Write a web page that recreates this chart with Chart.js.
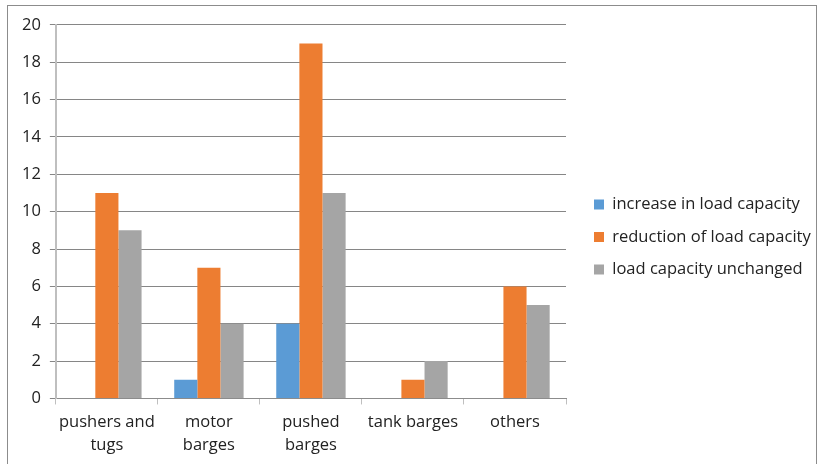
<!DOCTYPE html>
<html><head><meta charset="utf-8">
<script src="https://cdn.jsdelivr.net/npm/chart.js@4/dist/chart.umd.min.js"></script>
<style>
html,body{margin:0;padding:0;background:#fff;overflow:hidden;}
#wrap{position:absolute;left:7px;top:5px;width:810px;height:470px;border:1px solid #8c8c8c;box-sizing:border-box;}
</style></head>
<body><div id="wrap"><canvas id="c"></canvas></div>
<script>
const categories = [["pushers and","tugs"],["motor","barges"],["pushed","barges"],"tank barges","others"];
const increaseVals = [null, 1, 4, null, null];
const reductionVals = [11, 7, 19, 1, 6];
const unchangedVals = [9, 4, 11, 2, 5];
const seriesNames = ["increase in load capacity","reduction of load capacity","load capacity unchanged"];
const yTicks = [0,2,4,6,8,10,12,14,16,18,20];

const font = {family:"'Open Sans', Lato, sans-serif", size:16.5};
const legendFix = {
  id:'legendFix',
  beforeUpdate(chart){
    const lg = chart.legend;
    if (lg && !lg._patched){
      const orig = lg.fit.bind(lg);
      lg.fit = function(){ orig(); this.width = 250; };
      lg._patched = true;
    }
  },
  afterLayout(chart){ chart.legend.left += 12; chart.legend.top -= 6; chart.legend.bottom -= 6; }
};
new Chart(document.getElementById('c'), {
  type:'bar',
  data:{labels:categories, datasets:[
    {label:seriesNames[0], data:increaseVals, backgroundColor:'#5B9BD5'},
    {label:seriesNames[1], data:reductionVals, backgroundColor:'#ED7D31'},
    {label:seriesNames[2], data:unchangedVals, backgroundColor:'#A5A5A5'}
  ]},
  plugins:[legendFix],
  options:{
    responsive:true, maintainAspectRatio:false, animation:false,
    layout:{padding:{left:5,top:17,right:0,bottom:11}},
    datasets:{bar:{categoryPercentage:0.68, barPercentage:1}},
    plugins:{
      tooltip:{enabled:false},
      legend:{position:'right', align:'center',
        labels:{boxWidth:10, boxHeight:10, padding:16, color:'#222', font:font}}
    },
    scales:{
      x:{grid:{offset:true, drawOnChartArea:false, tickLength:6, color:'#bfbfbf'},
         border:{color:'#8c8c8c'},
         ticks:{color:'#222', font:Object.assign({},font,{lineHeight:1.35}), maxRotation:0, autoSkip:false, padding:7}},
      y:{min:0,max:20,
         afterBuildTicks:(s)=>{s.ticks=yTicks.map(v=>({value:v}));},
         grid:{color:'#868686', tickLength:6},
         border:{color:'#bfbfbf', width:2},
         ticks:{color:'#222', font:font, padding:9}}
    }
  }
});
</script></body></html>
